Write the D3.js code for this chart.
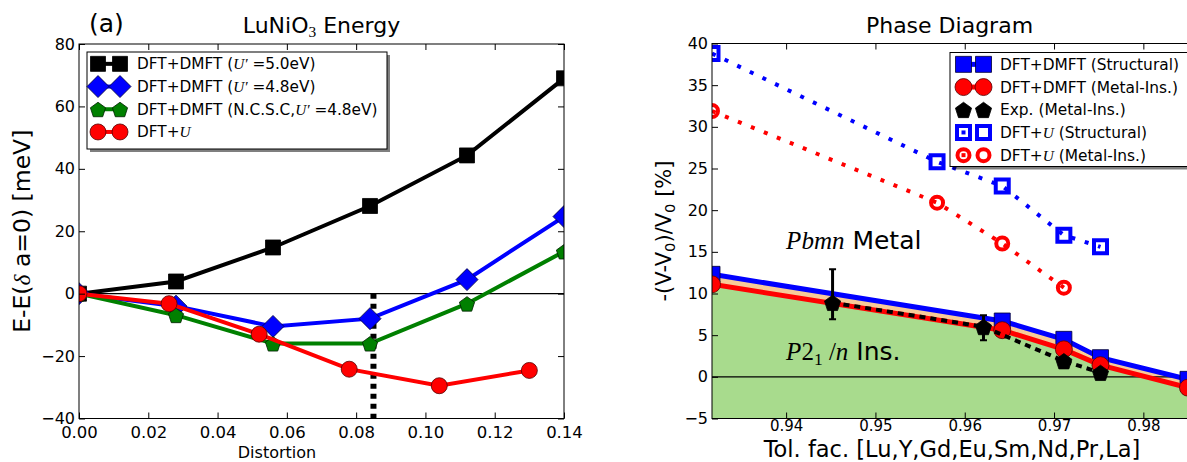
<!DOCTYPE html>
<meta charset="utf-8">
<style>
body { margin: 0; background: #fff; }
text { font-family: "DejaVu Sans", sans-serif; fill: #000; }
.m { font-family: "Liberation Serif", serif; font-style: italic; }
.r { font-family: "Liberation Serif", serif; }
</style>
<body>
<script src="https://d3js.org/d3.v7.min.js"></script>
<script>

const width = 1187
const height = 462

// (a) LuNiO3 energy vs distortion
const distDmft = [0, 0.028, 0.056, 0.084, 0.112, 0.14]
const distDftU = [0, 0.026, 0.052, 0.078, 0.104, 0.13]
const eDmft50 = [0, 3.9, 14.8, 28.1, 44.3, 69]
const eDmft48 = [0, -4, -10.5, -8, 4.5, 24.7]
const eNcsc48 = [0, -6.9, -16, -16, -3.2, 13.5]
const eDftU = [0, -3.2, -13, -24.2, -29.5, -24.6]
const distCrit = 0.085
const xTicksL = [0, 0.02, 0.04, 0.06, 0.08, 0.10, 0.12, 0.14]
const yTicksL = [-40, -20, 0, 20, 40, 60, 80]

// phase diagram vs tolerance factor
const tolDmft = [0.9317, 0.9642, 0.9711, 0.9752, 0.985]
const dmftStruct = [12.3, 6.7, 4.5, 2.3, -0.3]
const dmftMI = [11.1, 5.6, 3.3, 1.4, -1.3]
const tolExp = [0.9452, 0.9621, 0.9711, 0.9752]
const expMI = [8.9, 6.0, 1.9, 0.5]
const expErrLo = [2.0, 1.6, 0, 0]
const expErrHi = [4.0, 1.4, 0, 0]
const tolDftU = [0.9317, 0.9569, 0.9642, 0.9711, 0.9752]
const dftUStruct = [38.8, 25.8, 22.9, 17.0, 15.6]
const dftUMI = [31.9, 20.9, 16.0, 10.7]
const xTicksR = [0.94, 0.95, 0.96, 0.97, 0.98]
const yTicksR = [-5, 0, 5, 10, 15, 20, 25, 30, 35, 40]

const svg = d3.select("body").append("svg")
  .attr("width", width)
  .attr("height", height)

// marker shapes, s = full width
function markerPath(type, s) {
  const p = d3.path(), h = s / 2
  if (type === "square") p.rect(-h, -h, s, s)
  else if (type === "circle") p.arc(0, 0, h, 0, 2 * Math.PI)
  else if (type === "diamond") {
    p.moveTo(0, -h); p.lineTo(h, 0); p.lineTo(0, h); p.lineTo(-h, 0); p.closePath()
  } else if (type === "pentagon") {
    for (let i = 0; i < 5; i++) {
      const a = -Math.PI / 2 + i * 2 * Math.PI / 5
      if (i) p.lineTo(h * Math.cos(a), h * Math.sin(a) + 1)
      else p.moveTo(h * Math.cos(a), h * Math.sin(a) + 1)
    }
    p.closePath()
  }
  return p.toString()
}

function marker(g, type, s, cx, cy, st) {
  g.append("path")
    .attr("d", markerPath(type, s))
    .attr("transform", `translate(${cx},${cy})`)
    .attr("fill", st.fill)
    .attr("stroke", st.stroke)
    .attr("stroke-width", st.sw)
}

function series(g, xs, ys, x, y, st) {
  const pts = ys.map((v, i) => [x(xs[i]), y(v)])
  if (st.lw) {
    g.append("path")
      .attr("d", d3.line()(pts))
      .attr("fill", "none")
      .attr("stroke", st.color)
      .attr("stroke-width", st.lw)
      .attr("stroke-dasharray", st.dash || null)
  }
  pts.forEach(p => marker(g, st.shape, st.size, p[0], p[1], st.mk))
}

function richText(sel, parts) {
  parts.forEach(p => {
    const t = sel.append("tspan").text(p[0])
    if (p[1]) t.attr("class", p[1])
    if (p[2] === "sub") t.attr("baseline-shift", "-25%").attr("font-size", "70%")
  })
}

function frame(box, x, y, xt, yt, fmtX, fmtY, fsX, fsY, padX, padY, clipId, noRight) {
  const ax = svg.append("g")
  const b = ax.append("g").attr("transform", `translate(0,${box.bottom})`)
    .call(d3.axisBottom(x).tickValues(xt).tickSizeInner(-6).tickSizeOuter(0).tickPadding(padX).tickFormat(fmtX))
  b.attr("font-size", fsX).attr("font-family", null)
  const l = ax.append("g").attr("transform", `translate(${box.left},0)`)
    .call(d3.axisLeft(y).tickValues(yt).tickSizeInner(-6).tickSizeOuter(0).tickPadding(padY).tickFormat(fmtY))
  l.attr("font-size", fsY).attr("font-family", null)
  ax.append("g").attr("transform", `translate(0,${box.top})`)
    .call(d3.axisTop(x).tickValues(xt).tickSizeInner(-6).tickSizeOuter(0).tickFormat(""))
  if (!noRight) {
    ax.append("g").attr("transform", `translate(${box.right},0)`)
      .call(d3.axisRight(y).tickValues(yt).tickSizeInner(-6).tickSizeOuter(0).tickFormat(""))
  }
  ax.selectAll(".domain").remove()
  ax.selectAll(".tick line").attr("stroke", "#000")
  ax.append("rect")
    .attr("x", box.left).attr("y", box.top)
    .attr("width", box.right - box.left).attr("height", box.bottom - box.top)
    .attr("fill", "none").attr("stroke", "#000").attr("stroke-width", 1)
  svg.append("clipPath").attr("id", clipId).append("rect")
    .attr("x", box.left).attr("y", box.top)
    .attr("width", box.right - box.left).attr("height", box.bottom - box.top)
  return ax
}

function legend(x0, y0, w, h, rows, rowH, mx1, mx2, tx, fs) {
  const g = svg.append("g")
  g.append("rect").attr("x", x0 + 3).attr("y", y0 + 3).attr("width", w).attr("height", h)
    .attr("fill", "#000").attr("opacity", 0.5)
  g.append("rect").attr("x", x0).attr("y", y0).attr("width", w).attr("height", h)
    .attr("fill", "#fff").attr("stroke", "#000").attr("stroke-width", 1)
  rows.forEach((r, i) => {
    const cy = y0 + rowH * (i + 0.5) + 0.5
    const st = r.st
    if (st.lw) {
      g.append("line").attr("x1", mx1).attr("x2", mx2).attr("y1", cy).attr("y2", cy)
        .attr("stroke", st.color).attr("stroke-width", st.lw)
    }
    if (st.dash) {
      g.append("line").attr("x1", mx1 - 2).attr("x2", mx2).attr("y1", cy).attr("y2", cy)
        .attr("stroke", st.color).attr("stroke-width", 4).attr("stroke-dasharray", "4,40")
    }
    marker(g, st.shape, st.size, mx1, cy, st.mk)
    marker(g, st.shape, st.size, mx2, cy, st.mk)
    const t = g.append("text").attr("x", tx).attr("y", cy).attr("dy", "0.36em").attr("font-size", fs)
    richText(t, r.label)
  })
}

// ---------- left panel ----------
const L = { left: 79, right: 564, top: 44, bottom: 418.5 }
const xL = d3.scaleLinear().domain([0, 0.14]).range([L.left, L.right])
const yL = d3.scaleLinear().domain([-40, 80]).range([L.bottom, L.top])

const stBlack = { color: "#000", lw: 4, shape: "square", size: 15, mk: { fill: "#000", stroke: "#000", sw: 0.8 } }
const stBlue = { color: "#0000ff", lw: 4, shape: "diamond", size: 22, mk: { fill: "#0000ff", stroke: "#000033", sw: 0.8 } }
const stGreen = { color: "#008000", lw: 4, shape: "pentagon", size: 16, mk: { fill: "#008000", stroke: "#002000", sw: 0.8 } }
const stRed = { color: "#ff0000", lw: 4, shape: "circle", size: 16, mk: { fill: "#ff0000", stroke: "#550000", sw: 0.8 } }

const pl = svg.append("g").attr("clip-path", "url(#clipL)")
pl.append("line")
  .attr("x1", L.left).attr("x2", L.right).attr("y1", yL(0)).attr("y2", yL(0))
  .attr("stroke", "#000").attr("stroke-width", 1.2)
pl.append("line")
  .attr("x1", xL(distCrit)).attr("x2", xL(distCrit)).attr("y1", yL(0)).attr("y2", yL(-40))
  .attr("stroke", "#000").attr("stroke-width", 6).attr("stroke-dasharray", "5,5")
series(pl, distDmft, eDmft50, xL, yL, stBlack)
series(pl, distDmft, eDmft48, xL, yL, stBlue)
series(pl, distDmft, eNcsc48, xL, yL, stGreen)
series(pl, distDftU, eDftU, xL, yL, stRed)

frame(L, xL, yL, xTicksL, yTicksL, d3.format(".2f"), d3.format("d"), 16.5, 16, 8, 4, "clipL")

legend(87, 52, 300, 97, [
  { st: stBlack, label: [["DFT+DMFT ("], ["U\u2032", "m"], [" =5.0eV)"]] },
  { st: stBlue, label: [["DFT+DMFT ("], ["U\u2032", "m"], [" =4.8eV)"]] },
  { st: stGreen, label: [["DFT+DMFT (N.C.S.C,"], ["U\u2032", "m"], [" =4.8eV)"]] },
  { st: stRed, label: [["DFT+"], ["U", "m"]] }
], 22.7, 98, 120, 137, 15.3)

svg.append("text").attr("x", 89).attr("y", 32).attr("font-size", 25).text("(a)")
richText(svg.append("text").attr("x", (L.left + L.right) / 2).attr("y", 33)
  .attr("text-anchor", "middle").attr("font-size", 22),
  [["LuNiO"], ["3", "r", "sub"], [" Energy"]])
svg.append("text").attr("x", 277).attr("y", 458)
  .attr("text-anchor", "middle").attr("font-size", 16).text("Distortion")
richText(svg.append("text").attr("transform", `translate(30,${(L.top + L.bottom) / 2}) rotate(-90)`)
  .attr("text-anchor", "middle").attr("font-size", 23.5),
  [["E-E("], ["\u03b4", "m"], [" a=0) [meV]"]])

// ---------- right panel ----------
const R = { left: 712, right: 1188, top: 43.5, bottom: 418.5 }
const xR = d3.scaleLinear().domain([0.9317, 0.985]).range([R.left, R.right])
const yR = d3.scaleLinear().domain([-5, 40]).range([R.bottom, R.top])

const stBlueS = { color: "#0000ff", lw: 5, shape: "square", size: 16, mk: { fill: "#0000ff", stroke: "#000033", sw: 0.8 } }
const stRedC = { color: "#ff0000", lw: 5, shape: "circle", size: 17, mk: { fill: "#ff0000", stroke: "#550000", sw: 0.8 } }
const stExp = { color: "#000", shape: "pentagon", size: 17, mk: { fill: "#000", stroke: "#000", sw: 0.8 } }
const stBlueO = { color: "#0000ff", dash: "4,10", shape: "square", size: 13, mk: { fill: "none", stroke: "#0000ff", sw: 4 } }
const stRedO = { color: "#ff0000", dash: "4,10", shape: "circle", size: 12, mk: { fill: "none", stroke: "#ff0000", sw: 4 } }

const pr = svg.append("g").attr("clip-path", "url(#clipR)")
pr.append("path")
  .attr("d", d3.area().x((d, i) => xR(tolDmft[i])).y0(yR(-5)).y1(d => yR(d))(dmftMI))
  .attr("fill", "#a8db8d")
pr.append("path")
  .attr("d", d3.area().x((d, i) => xR(tolDmft[i])).y0((d, i) => yR(dmftMI[i])).y1(d => yR(d))(dmftStruct))
  .attr("fill", "#f7ca98")
pr.append("line")
  .attr("x1", R.left).attr("x2", R.right).attr("y1", yR(0)).attr("y2", yR(0))
  .attr("stroke", "#000").attr("stroke-width", 1.2)

series(pr, tolDmft, dmftStruct, xR, yR, stBlueS)
series(pr, tolDmft, dmftMI, xR, yR, stRedC)

// experiment: dashed line, error bars, pentagons
pr.append("path")
  .attr("d", d3.line()(expMI.map((v, i) => [xR(tolExp[i]), yR(v)])))
  .attr("fill", "none").attr("stroke", "#000").attr("stroke-width", 4).attr("stroke-dasharray", "6,5")
expMI.forEach((v, i) => {
  if (!expErrLo[i] && !expErrHi[i]) return
  const cx = xR(tolExp[i]), lo = yR(v - expErrLo[i]), hi = yR(v + expErrHi[i])
  pr.append("line").attr("x1", cx).attr("x2", cx).attr("y1", lo).attr("y2", hi)
    .attr("stroke", "#000").attr("stroke-width", 3)
  ;[lo, hi].forEach(yy => pr.append("line")
    .attr("x1", cx - 3.5).attr("x2", cx + 3.5).attr("y1", yy).attr("y2", yy)
    .attr("stroke", "#000").attr("stroke-width", 2))
})
expMI.forEach((v, i) => marker(pr, stExp.shape, stExp.size, xR(tolExp[i]), yR(v), stExp.mk))

series(pr, tolDftU, dftUStruct, xR, yR, Object.assign({}, stBlueO, { lw: 4 }))
series(pr, tolDftU.slice(0, dftUMI.length), dftUMI, xR, yR, Object.assign({}, stRedO, { lw: 4 }))

frame(R, xR, yR, xTicksR, yTicksR, d3.format(".2f"), d3.format("d"), 15, 16, 2, 4, "clipR", true)

// region labels
const ann1 = svg.append("text").attr("x", xR(0.94)).attr("y", yR(15.3)).attr("font-size", 25)
richText(ann1, [["Pbmn", "m"], [" Metal"]])
const ann2 = svg.append("text").attr("x", xR(0.94)).attr("y", yR(2.0)).attr("font-size", 25)
richText(ann2, [["P", "m"], ["2", "r"], ["1", "r", "sub"], [" /", "r"], ["n", "m"], [" Ins."]])

legend(950, 52.5, 245, 114, [
  { st: stBlueS, label: [["DFT+DMFT (Structural)"]] },
  { st: stRedC, label: [["DFT+DMFT (Metal-Ins.)"]] },
  { st: stExp, label: [["Exp. (Metal-Ins.)"]] },
  { st: stBlueO, label: [["DFT+"], ["U", "m"], [" (Structural)"]] },
  { st: stRedO, label: [["DFT+"], ["U", "m"], [" (Metal-Ins.)"]] }
], 22.7, 963.5, 983.5, 1000, 15.4)

svg.append("text").attr("x", (R.left + 1187) / 2).attr("y", 33)
  .attr("text-anchor", "middle").attr("font-size", 22).text("Phase Diagram")
svg.append("text").attr("x", 952).attr("y", 457)
  .attr("text-anchor", "middle").attr("font-size", 22.5).text("Tol. fac. [Lu,Y,Gd,Eu,Sm,Nd,Pr,La]")
richText(svg.append("text").attr("transform", `translate(671,${(R.top + R.bottom) / 2}) rotate(-90)`)
  .attr("text-anchor", "middle").attr("font-size", 21),
  [["-(V-V"], ["0", null, "sub"], [")/V"], ["0", null, "sub"], [" [%]"]])

</script>
</body>
</html>
